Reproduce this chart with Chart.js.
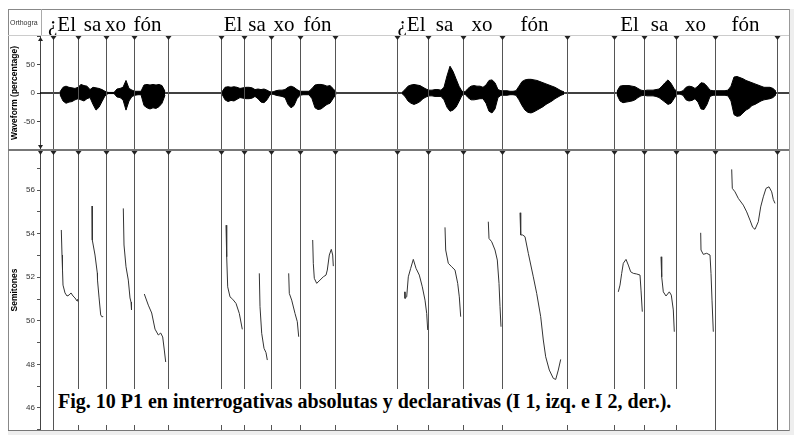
<!DOCTYPE html>
<html><head><meta charset="utf-8">
<script src="https://cdn.jsdelivr.net/npm/chart.js@4/dist/chart.umd.min.js"></script>
<style>
html,body{margin:0;padding:0;background:#fff;}
#wrap{position:relative;width:794px;height:435px;overflow:hidden;background:#fff;}
canvas{position:absolute;left:0;}
.ln{position:absolute;}
#orth{position:absolute;left:10px;top:19px;font:7px "Liberation Sans",Arial,sans-serif;color:#333;}
#caption{position:absolute;left:55px;top:389px;width:622px;height:36px;background:#fff;box-sizing:border-box;padding:2px 0 0 3px;
 font:bold 20px "Liberation Serif","Times New Roman",serif;line-height:20px;color:#000;white-space:nowrap;}
</style></head><body>
<div id="wrap">
 <canvas id="wave" width="794" height="150" style="top:0"></canvas>
 <canvas id="pitch" width="794" height="280" style="top:150px"></canvas>
 <div class="ln" style="left:8px;top:9px;width:782px;height:1px;background:#888"></div>
 <div class="ln" style="left:8px;top:9px;width:1px;height:422px;background:#888"></div>
 <div class="ln" style="left:41px;top:9px;width:1px;height:26px;background:#aaa"></div>
 <div class="ln" style="left:8px;top:35px;width:782px;height:1px;background:#ccc"></div>
 <div class="ln" style="left:8px;top:149px;width:782px;height:2px;background:#777"></div>
 <div class="ln" style="left:8px;top:430px;width:786px;height:5px;background:#eee;border-top:1px solid #777"></div>
 <div class="ln" style="left:789px;top:9px;width:5px;height:422px;background:#eee;border-left:1px solid #999"></div>
 <div id="orth">Orthogra</div>
 <div id="caption">Fig. 10 P1 en interrogativas absolutas y declarativas (I 1, izq. e I 2, der.).</div>
</div>
<script>
// ---- data ----
const timeMin = 0, timeMax = 7.49; // seconds
const boundaryTimes = [0.133,0.383,0.663,0.937,1.283, 1.807,2.037,2.307,2.597,2.953,
                       3.57,3.88,4.227,4.623,5.267, 5.743,6.037,6.363,6.75,7.37];
const wordLabels = ['¿El','sa','xo','fón','El','sa','xo','fón','¿El','sa','xo','fón','El','sa','xo','fón'];
const wordTimes = [0.22,0.525,0.755,1.075, 1.93,2.17,2.44,2.775, 3.715,4.045,4.42,4.945, 5.895,6.195,6.555,7.055];

const waveTicks = [-100,-50,0,50,100];
const waveStarts = [0.20,1.82,3.62,5.77];
const waveStep = 0.03;
const waveUpper = [
 [2,10,12,10,9,8,10,15,13,12,6,10,9,8,6,3,1,1,1,7,8,10,22,8,5,3,3,3,14,15,14,15,14,15,13,3],
 [2,10,11,10,11,10,8,9,10,10,9,6,7,6,7,5,2,2,4,5,5,6,10,12,10,6,3,3,3,3,8,14,15,15,14,12,13,8,2],
 [1,6,12,14,15,14,13,10,7,5,5,6,6,5,10,30,47,38,25,12,3,2,8,12,13,12,12,10,14,22,23,18,6,4,4,4,3,3,4,12,20,23,24,24,23,22,20,18,16,14,12,10,7,4,2],
 [3,12,13,13,13,12,11,8,5,4,5,5,5,6,7,12,18,23,17,8,2,2,4,10,12,11,8,12,18,17,12,5,4,4,4,4,4,5,12,28,29,27,25,22,20,18,16,14,12,10,10,10,8,3]
];
const waveLower = [
 [-3,-14,-18,-16,-15,-12,-10,-12,-14,-10,-8,-20,-30,-25,-15,-5,-1,-1,-1,-7,-8,-12,-30,-14,-6,-4,-3,-3,-22,-26,-28,-26,-27,-24,-18,-4],
 [-2,-12,-15,-13,-14,-11,-8,-9,-10,-10,-9,-6,-10,-16,-17,-12,-3,-2,-4,-5,-6,-8,-20,-26,-22,-10,-4,-3,-3,-3,-10,-26,-29,-28,-24,-20,-18,-10,-2],
 [-1,-6,-14,-18,-20,-18,-15,-10,-7,-5,-5,-6,-6,-6,-12,-25,-32,-30,-25,-15,-4,-2,-8,-12,-12,-11,-10,-10,-18,-32,-35,-28,-8,-4,-4,-4,-3,-3,-4,-12,-22,-30,-34,-35,-33,-30,-27,-24,-20,-17,-14,-10,-7,-4,-2],
 [-3,-14,-17,-16,-15,-14,-12,-8,-5,-4,-5,-5,-5,-6,-8,-12,-16,-20,-18,-10,-2,-2,-4,-12,-14,-13,-10,-16,-28,-29,-20,-6,-4,-4,-4,-4,-4,-5,-14,-38,-41,-40,-35,-30,-27,-22,-20,-17,-14,-12,-11,-10,-8,-3]
];

const pitchTicks = [45,46,47,48,49,50,51,52,53,54,55,56,57];
const pitchMin = 44.99, pitchMax = 57.84;
const pitchTimes = [
 [0.213,0.22,0.225,0.23,0.25,0.27,0.29,0.31,0.33,0.35,0.37,0.377],
 [0.52,0.523,0.55,0.573,0.575,0.59,0.607,0.623,0.63],
 [0.833,0.84,0.86,0.883,0.90,0.91,0.915],
 [1.043,1.083,1.117,1.15,1.183,1.207,1.227,1.243,1.257],
 [1.86,1.867,1.877,1.90,1.927,1.96,1.993,2.023],
 [2.193,2.20,2.217,2.24,2.26,2.273],
 [2.487,2.493,2.517,2.55,2.573,2.587],
 [2.727,2.733,2.743,2.767,2.80,2.833,2.86,2.873,2.893,2.913,2.927,2.933],
 [3.647,3.65,3.667,3.683,3.707,3.733,3.76,3.793,3.823,3.85,3.867,3.877],
 [4.05,4.057,4.083,4.117,4.15,4.177,4.193,4.207],
 [4.483,4.49,4.517,4.55,4.573,4.59,4.60,4.61],
 [4.80,4.807,4.827,4.85,4.883,4.933,4.967,5.007,5.033,5.057,5.093,5.133,5.157,5.183,5.207],
 [5.783,5.80,5.817,5.833,5.86,5.883,5.907,5.933,5.967,6.00,6.01,6.023],
 [6.21,6.217,6.233,6.26,6.293,6.313,6.333,6.343],
 [6.607,6.61,6.633,6.667,6.70,6.71,6.72,6.733],
 [6.917,6.923,6.95,6.983,7.033,7.067,7.10,7.127,7.15,7.183,7.207,7.233,7.26,7.29,7.317,7.333,7.35]
];
const pitchSemitones = [
 [54.17,53.02,52.33,51.64,51.28,51.14,51.18,51.28,51.14,51.05,50.91,51.0],
 [55.27,53.71,53.02,52.19,51.87,51.09,50.27,50.17,50.22],
 [55.16,53.48,52.48,51.87,51.05,50.86,50.5],
 [51.23,50.72,50.36,49.62,49.35,49.44,49.26,48.66,48.11],
 [54.39,52.94,51.56,51.1,50.99,50.8,50.34,49.61],
 [52.18,50.65,49.43,48.74,48.54,48.2],
 [52.18,51.26,50.95,50.34,49.96,49.27],
 [53.71,52.64,51.95,51.72,51.87,52.02,52.1,52.33,53.02,53.28,53.02,52.51],
 [51.33,51.03,51.1,52.02,52.41,52.82,52.41,52.1,51.56,50.95,50.34,49.58],
 [54.29,53.25,52.64,52.48,52.33,51.72,51.1,50.19],
 [54.55,53.78,53.63,53.25,52.79,51.72,50.65,49.73],
 [54.96,53.94,53.94,53.86,53.1,52.02,51.26,50.19,49.12,48.35,47.74,47.36,47.31,47.74,48.23],
 [51.33,51.64,52.18,52.64,52.82,52.56,52.25,52.18,52.15,52.1,51.41,50.42],
 [52.94,52.02,51.33,51.14,51.33,51.18,50.5,49.5],
 [54.04,53.25,53.05,53.1,53.02,52.18,50.95,49.5],
 [56.95,56.08,55.92,55.62,55.31,55.0,54.62,54.29,54.2,54.55,55.23,55.69,56.08,56.15,55.92,55.57,55.39]
];

// ---- helpers ----
const tickFont = {family:'"Liberation Sans", Arial, sans-serif', size:8};
const titleFont = {family:'"Liberation Sans", Arial, sans-serif', size:8.5, weight:'bold'};
const fixAxis = s => { s.width = 32; s.paddingTop = 0; s.paddingBottom = 0; };

const boundaryPlugin = {
  id:'boundaries',
  afterDatasetsDraw(chart, args, opts){
    const {ctx, chartArea:a, scales:{x}} = chart;
    ctx.save();
    boundaryTimes.forEach(t=>{
      const px = Math.round(x.getPixelForValue(t)) + 0.5;
      ctx.strokeStyle = '#555'; ctx.lineWidth = 1;
      ctx.beginPath(); ctx.moveTo(px, a.top); ctx.lineTo(px, a.bottom); ctx.stroke();
      ctx.fillStyle = '#222';
      ctx.beginPath(); ctx.moveTo(px-3, a.top+opts.tri); ctx.lineTo(px+3, a.top+opts.tri); ctx.lineTo(px, a.top+opts.tri+4); ctx.closePath(); ctx.fill();
    });
    const ax = Math.round(a.left)+0.5;
    ctx.fillStyle = '#222';
    if (opts.arrows){
      ctx.beginPath(); ctx.moveTo(ax-2.5,a.top+5); ctx.lineTo(ax+2.5,a.top+5); ctx.lineTo(ax,a.top+1); ctx.closePath(); ctx.fill();
      ctx.beginPath(); ctx.moveTo(ax-2.5,a.bottom-5); ctx.lineTo(ax+2.5,a.bottom-5); ctx.lineTo(ax,a.bottom-1); ctx.closePath(); ctx.fill();
    } else {
      ctx.beginPath(); ctx.moveTo(ax-2.5,a.top+1); ctx.lineTo(ax+2.5,a.top+1); ctx.lineTo(ax,a.top+5); ctx.closePath(); ctx.fill();
    }
    ctx.restore();
  }
};

const tierPlugin = {
  id:'tier',
  afterDraw(chart){
    const {ctx, scales:{x}} = chart;
    ctx.save();
    ctx.font = '21px "Liberation Serif", "Times New Roman", serif';
    ctx.fillStyle = '#000'; ctx.textAlign = 'center'; ctx.textBaseline = 'alphabetic';
    wordLabels.forEach((w,i)=>ctx.fillText(w, x.getPixelForValue(wordTimes[i]), 31));
    ctx.restore();
  }
};

// ---- waveform chart ----
const waveDatasets = [{
  data:[{x:timeMin,y:0},{x:timeMax,y:0}], borderColor:'#000', borderWidth:1.4, pointRadius:0, fill:false
}];
waveStarts.forEach((s,k)=>{
  waveDatasets.push({data: waveUpper[k].map((v,i)=>({x:s+i*waveStep, y:v})), borderColor:'#000', borderWidth:1, pointRadius:0, fill:false, tension:0});
  waveDatasets.push({data: waveLower[k].map((v,i)=>({x:s+i*waveStep, y:v})), borderColor:'#000', borderWidth:1, pointRadius:0, fill:'-1', backgroundColor:'#000', tension:0});
});

new Chart(document.getElementById('wave'), {
  type:'line',
  data:{datasets:waveDatasets},
  options:{
    responsive:false, animation:false, devicePixelRatio:1, events:[],
    layout:{padding:{left:8,right:5,top:36,bottom:0}},
    plugins:{legend:{display:false}, tooltip:{enabled:false}, boundaries:{tri:0, arrows:true}},
    scales:{
      x:{type:'linear', min:timeMin, max:timeMax, display:false},
      y:{min:-100, max:100,
         afterBuildTicks:s=>{s.ticks = waveTicks.map(v=>({value:v}));},
         afterFit:fixAxis,
         ticks:{font:tickFont, color:'#333', padding:2, callback:v=>(Math.abs(v)===100?'':String(v))},
         grid:{drawOnChartArea:false, drawTicks:true, tickLength:3, color:'#444'},
         border:{display:true, color:'#444'},
         title:{display:true, text:'Waveform (percentage)', font:titleFont, color:'#000', padding:{top:2,bottom:0}}
      }
    }
  },
  plugins:[boundaryPlugin, tierPlugin]
});

// ---- pitch chart ----
const pitchDatasets = pitchTimes.map((ts,k)=>({
  data: ts.map((t,i)=>({x:t, y:pitchSemitones[k][i]})),
  borderColor:'#333', borderWidth:1, pointRadius:0, fill:false, tension:0
}));

new Chart(document.getElementById('pitch'), {
  type:'line',
  data:{datasets:pitchDatasets},
  options:{
    responsive:false, animation:false, devicePixelRatio:1, events:[],
    layout:{padding:{left:8,right:5,top:0,bottom:0}},
    plugins:{legend:{display:false}, tooltip:{enabled:false}, boundaries:{tri:1, arrows:false}},
    scales:{
      x:{type:'linear', min:timeMin, max:timeMax, display:false},
      y:{min:pitchMin, max:pitchMax,
         afterBuildTicks:s=>{s.ticks = pitchTicks.map(v=>({value:v}));},
         afterFit:fixAxis,
         ticks:{font:tickFont, color:'#333', padding:2, callback:v=>(v%2===0?String(v):'')},
         grid:{drawOnChartArea:false, drawTicks:true, tickLength:3, color:'#555'},
         border:{display:true, color:'#444'},
         title:{display:true, text:'Semitones', font:titleFont, color:'#000', padding:{top:2,bottom:0}}
      }
    }
  },
  plugins:[boundaryPlugin]
});
</script>
</body></html>
